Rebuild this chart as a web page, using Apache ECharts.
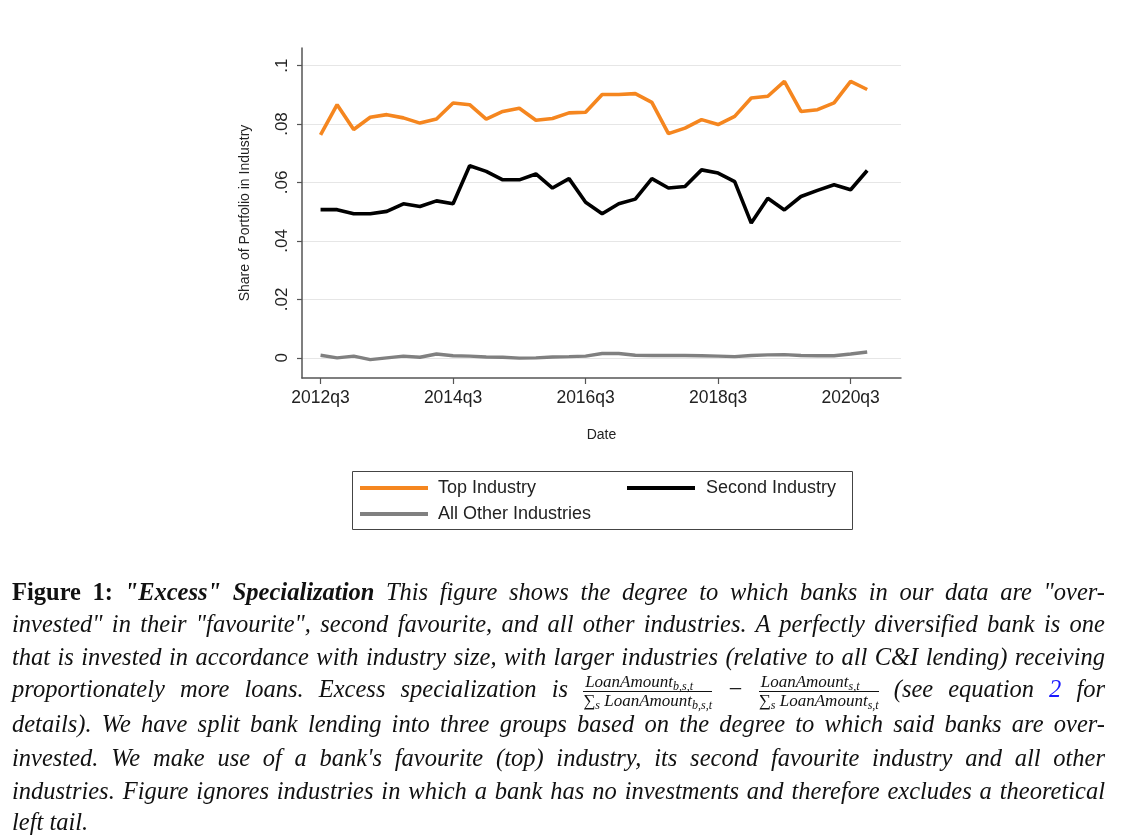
<!DOCTYPE html>
<html>
<head>
<meta charset="utf-8">
<script src="https://cdn.jsdelivr.net/npm/echarts@6/dist/echarts.min.js"></script>
<style>
  html, body { margin: 0; padding: 0; background: #fff; }
  #chart { position: absolute; left: 0; top: 0; width: 1123px; height: 835px; }
  #caption { position: absolute; left: 12px; top: 0; width: 1093px; font-family: "Liberation Serif", "DejaVu Serif", serif; font-style: italic; font-size: 24.5px; color: #111; }
  .ln { position: absolute; left: 0; width: 1093px; white-space: nowrap; text-align: justify; text-align-last: justify; line-height: 26px; }
  .ln.last { text-align-last: left; }
  .b { font-weight: bold; font-style: normal; }
  .bi { font-weight: bold; font-style: italic; }
  .frac { display: inline-block; vertical-align: middle; text-align: center; font-size: 17px; line-height: 16px; }
  .frac .num { display: block; border-bottom: 1px solid #111; padding: 0 2px 1px 2px; }
  .frac .den { display: block; padding-top: 1px; }
  sub { font-size: 12px; vertical-align: -3px; line-height: 0; }
  .blue { color: #1a1aff; font-style: italic; }
</style>
</head>
<body>
<div id="chart"></div>
<div id="caption">
  <div class="ln" style="top:579px"><span class="b">Figure 1:</span> <span class="bi">"Excess" Specialization</span> This figure shows the degree to which banks in our data are "over-</div>
  <div class="ln" style="top:611px">invested" in their "favourite", second favourite, and all other industries. A perfectly diversified bank is one</div>
  <div class="ln" style="top:644px">that is invested in accordance with industry size, with larger industries (relative to all C&amp;I lending) receiving</div>
  <div class="ln" style="top:674px">proportionately more loans. Excess specialization is <span class="frac"><span class="num">LoanAmount<sub>b,s,t</sub></span><span class="den">&sum;<sub>s</sub> LoanAmount<sub>b,s,t</sub></span></span> &minus; <span class="frac"><span class="num">LoanAmount<sub>s,t</sub></span><span class="den">&sum;<sub>s</sub> LoanAmount<sub>s,t</sub></span></span> (see equation <span class="blue">2</span> for</div>
  <div class="ln" style="top:711px">details). We have split bank lending into three groups based on the degree to which said banks are over-</div>
  <div class="ln" style="top:745px">invested. We make use of a bank's favourite (top) industry, its second favourite industry and all other</div>
  <div class="ln" style="top:778px">industries. Figure ignores industries in which a bank has no investments and therefore excludes a theoretical</div>
  <div class="ln last" style="top:809px">left tail.</div>
</div>
<script>
// ---- data ----
const quarters = ['2012q3','2012q4','2013q1','2013q2','2013q3','2013q4','2014q1','2014q2',
  '2014q3','2014q4','2015q1','2015q2','2015q3','2015q4','2016q1','2016q2',
  '2016q3','2016q4','2017q1','2017q2','2017q3','2017q4','2018q1','2018q2',
  '2018q3','2018q4','2019q1','2019q2','2019q3','2019q4','2020q1','2020q2',
  '2020q3','2020q4'];
const topIndustry = [0.0763,0.0866,0.0781,0.0823,0.0832,0.0821,0.0803,0.0817,
  0.0872,0.0866,0.0817,0.0843,0.0854,0.0813,0.0819,0.0838,
  0.0840,0.0901,0.0901,0.0904,0.0874,0.0767,0.0786,0.0815,
  0.0798,0.0826,0.0889,0.0895,0.0946,0.0843,0.0849,0.0872,
  0.0946,0.0918];
const secondIndustry = [0.0507,0.0507,0.0493,0.0493,0.0501,0.0527,0.0518,0.0537,
  0.0527,0.0657,0.0638,0.0609,0.0609,0.0629,0.0581,0.0613,
  0.0532,0.0493,0.0527,0.0543,0.0613,0.0581,0.0586,0.0643,
  0.0632,0.0603,0.0461,0.0546,0.0506,0.0552,0.0573,0.0592,
  0.0575,0.0641];
const otherIndustries = [0.0009,0.0000,0.0006,-0.0006,0.0000,0.0006,0.0002,0.0013,
  0.0007,0.0006,0.0003,0.0002,-0.0001,0.0000,0.0003,0.0004,
  0.0006,0.0015,0.0015,0.0009,0.0008,0.0008,0.0008,0.0007,
  0.0006,0.0004,0.0008,0.0010,0.0011,0.0008,0.0007,0.0007,
  0.0013,0.0020];
const xTickLabels = ['2012q3','2014q3','2016q3','2018q3','2020q3'];
const yTicks = [0, 0.02, 0.04, 0.06, 0.08, 0.1];
const yTickLabels = ['0', '.02', '.04', '.06', '.08', '.1'];

// ---- build ----
const xTickIdx = xTickLabels.map(l => quarters.indexOf(l));
const pairs = arr => arr.map((v, i) => [i, v]);
const font = '"Liberation Sans", Arial, sans-serif';
const axisColor = '#555';

const chart = echarts.init(document.getElementById('chart'), null, { renderer: 'canvas' });
chart.setOption({
  backgroundColor: '#fff',
  animation: false,
  grid: { left: 302, right: 222, top: 48, bottom: 457, containLabel: false },
  xAxis: {
    type: 'value', min: -1.12, max: 35.04,
    name: 'Date', nameLocation: 'middle', nameGap: 50,
    nameTextStyle: { fontFamily: font, fontSize: 14, color: '#222' },
    axisLine: { show: true, onZero: false, lineStyle: { color: axisColor, width: 1.5 } },
    axisTick: { show: true, length: 6, lineStyle: { color: axisColor, width: 1.2 }, customValues: xTickIdx },
    axisLabel: { customValues: xTickIdx, margin: 11, fontFamily: font, fontSize: 17.5, color: '#222',
      formatter: v => quarters[Math.round(v)] },
    splitLine: { show: false }
  },
  yAxis: {
    type: 'value', min: -0.0069, max: 0.106,
    name: 'Share of Portfolio in Industry', nameLocation: 'middle', nameGap: 50, nameRotate: 90,
    nameTextStyle: { fontFamily: font, fontSize: 14, color: '#222' },
    axisLine: { show: true, onZero: false, lineStyle: { color: axisColor, width: 1.5 } },
    axisTick: { show: true, length: 5, lineStyle: { color: axisColor, width: 1.2 }, customValues: yTicks },
    axisLabel: { customValues: yTicks, rotate: 90, margin: 11, fontFamily: font, fontSize: 17, color: '#222',
      formatter: v => yTickLabels[yTicks.findIndex(t => Math.abs(t - v) < 1e-9)] },
    splitLine: { show: true, lineStyle: { color: '#e6e6e6', width: 1.2 } }
  },
  legend: [
    {
      orient: 'vertical', left: 355, top: 473, itemWidth: 68, itemHeight: 4, itemGap: 6,
      icon: 'rect', data: ['Top Industry', 'All Other Industries'],
      textStyle: { fontFamily: font, fontSize: 18, color: '#222', padding: [0, 0, 0, 5], lineHeight: 20 }
    },
    {
      orient: 'vertical', left: 622, top: 473, itemWidth: 68, itemHeight: 4,
      icon: 'rect', data: ['Second Industry'],
      textStyle: { fontFamily: font, fontSize: 18, color: '#222', padding: [0, 0, 0, 6], lineHeight: 20 }
    }
  ],
  graphic: [
    { type: 'rect', shape: { x: 352.5, y: 471.5, width: 500, height: 58 },
      style: { fill: 'none', stroke: '#444', lineWidth: 1 }, silent: true, z: 0 }
  ],
  series: [
    { name: 'Top Industry', type: 'line', data: pairs(topIndustry), showSymbol: false, smooth: false,
      color: '#F5861F', lineStyle: { color: '#F5861F', width: 3.6 } },
    { name: 'Second Industry', type: 'line', data: pairs(secondIndustry), showSymbol: false, smooth: false,
      color: '#000', lineStyle: { color: '#000', width: 3.6 } },
    { name: 'All Other Industries', type: 'line', data: pairs(otherIndustries), showSymbol: false, smooth: false,
      color: '#808080', lineStyle: { color: '#808080', width: 3.4 } }
  ]
});
</script>
</body>
</html>
